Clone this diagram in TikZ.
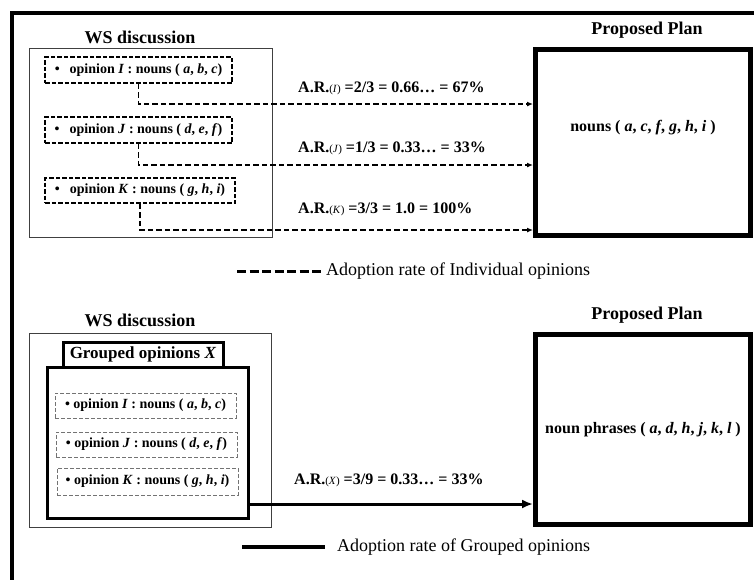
\documentclass[tikz,border=0pt]{standalone}
\usepackage{fontspec}
\setmainfont{Liberation Serif}
\usetikzlibrary{arrows.meta,calc}
\tikzset{
  frame/.style={line width=4pt},
  wsbox/.style={draw=black!75, line width=0.9pt, rectangle, inner sep=0pt},
  title/.style={font=\fontsize{18}{20}\selectfont\bfseries, inner sep=0pt},
  opbox/.style={draw, line width=1.5pt, dash pattern=on 4.5pt off 2pt, rectangle, inner sep=0pt,
                minimum height=26pt, font=\fontsize{14}{16}\selectfont\bfseries},
  opboxg/.style={draw=black!55, line width=1pt, dash pattern=on 4pt off 2pt, rectangle, inner sep=0pt,
                minimum width=181pt, font=\fontsize{14}{16}\selectfont\bfseries},
  planbox/.style={draw, line width=5pt, rectangle, minimum width=215pt, inner sep=0pt},
  plantext/.style={font=\fontsize{16}{18}\selectfont\bfseries, inner sep=0pt},
  arlabel/.style={font=\fontsize{16}{18}\selectfont\bfseries, inner sep=0pt, anchor=west},
  indiv/.style={line width=1.5pt, dash pattern=on 5.5pt off 3pt, -{Latex[length=6pt,width=5pt]}},
  grouped/.style={line width=3pt, -{Latex[length=11pt,width=9pt]}},
  legtext/.style={font=\fontsize{18}{20}\selectfont, inner sep=0pt, anchor=west},
  thickbox/.style={draw, line width=3pt, rectangle, inner sep=0pt},
}
\newcommand{\smallp}[1]{{\fontsize{11}{11}\selectfont\mdseries(\textit{#1})}}
\begin{document}
\begin{tikzpicture}[x=1pt,y=-1pt]
\useasboundingbox (0,0) rectangle (754,579);
\clip (0,0) rectangle (754,579);
% outer frame
\coordinate (fa) at (12,590);
\coordinate (fb) at (12,13);
\coordinate (fc) at (770,13);
\draw[frame] (fa) -- (fb) -- (fc);

% ---------- top part ----------
\node[title] (ws1t) at (140,37) {WS discussion};
\node[wsbox, minimum width=243pt, minimum height=189pt] (ws1) at (150.5,142.5) {};
\node[opbox, minimum width=187pt] (opI) at (138.5,70)
  {\textbullet\hspace{10pt}opinion \textit{I} : nouns ( \textit{a}, \textit{b}, \textit{c})};
\node[opbox, minimum width=187pt] (opJ) at (138.5,130)
  {\textbullet\hspace{10pt}opinion \textit{J} : nouns ( \textit{d}, \textit{e}, \textit{f})};
\node[opbox, minimum width=190pt, minimum height=25pt] (opK) at (140,190.5)
  {\textbullet\hspace{10pt}opinion \textit{K} : nouns ( \textit{g}, \textit{h}, \textit{i})};

\node[title] (pp1t) at (647,30) {Proposed Plan};
\node[planbox, minimum height=186pt] (pp1) at (643,142.5) {};
\node[plantext] (pp1x) at (643,128) {nouns ( \textit{a}, \textit{c}, \textit{f}, \textit{g}, \textit{h}, \textit{i} )};

\node[arlabel] (arI) at (298,88) {A.R.\smallp{I} =2/3 = 0.66… = 67\%};
\node[arlabel] (arJ) at (298,148) {A.R.\smallp{J} =1/3 = 0.33… = 33\%};
\node[arlabel] (arK) at (298,209) {A.R.\smallp{K} =3/3 = 1.0 = 100\%};

\draw[indiv] (opI.south) |- (pp1.west |- 0,104);
\draw[indiv] (opJ.south) |- (pp1.west |- 0,165);
\draw[indiv] (opK.south) |- (pp1.west |- 0,230);

% legend 1
\coordinate (l1a) at (237,271);
\coordinate (l1b) at (323,271);
\draw[line width=3pt, dash pattern=on 9pt off 3.5pt] (l1a) -- (l1b);
\node[legtext] (l1t) at (326,271) {Adoption rate of Individual opinions};

% ---------- bottom part ----------
\node[title] (ws2t) at (140,320) {WS discussion};
\node[wsbox, minimum width=242pt, minimum height=194pt] (ws2) at (150,430) {};
\node[thickbox, minimum width=201pt, minimum height=151pt] (grp) at (147.5,442.5) {};
\node[thickbox, fill=white, minimum width=160pt, minimum height=25pt,
      font=\fontsize{17}{19}\selectfont\bfseries] (tab) at (143,354.5) {Grouped opinions \textit{X}};
\node[opboxg, minimum height=25pt] (opI2) at (145.5,405.5)
  {\textbullet\ opinion \textit{I} : nouns ( \textit{a}, \textit{b}, \textit{c})};
\node[opboxg, minimum height=25pt] (opJ2) at (146.5,444.5)
  {\textbullet\ opinion \textit{J} : nouns ( \textit{d}, \textit{e}, \textit{f})};
\node[opboxg, minimum height=27pt] (opK2) at (147.5,481.5)
  {\textbullet\ opinion \textit{K} : nouns ( \textit{g}, \textit{h}, \textit{i})};

\node[title] (pp2t) at (647,315) {Proposed Plan};
\node[planbox, minimum height=190pt] (pp2) at (643,429.5) {};
\node[plantext] (pp2x) at (643,430) {noun phrases ( \textit{a}, \textit{d}, \textit{h}, \textit{j}, \textit{k}, \textit{l} )};

\node[arlabel] (arX) at (294,480) {A.R.\smallp{X} =3/9 = 0.33… = 33\%};
\draw[grouped] (grp.east |- 0,504) -- (pp2.west |- 0,504);

% legend 2
\coordinate (l2a) at (242,547);
\coordinate (l2b) at (325,547);
\draw[line width=4pt] (l2a) -- (l2b);
\node[legtext] (l2t) at (337,547) {Adoption rate of Grouped opinions};
\end{tikzpicture}
\end{document}
